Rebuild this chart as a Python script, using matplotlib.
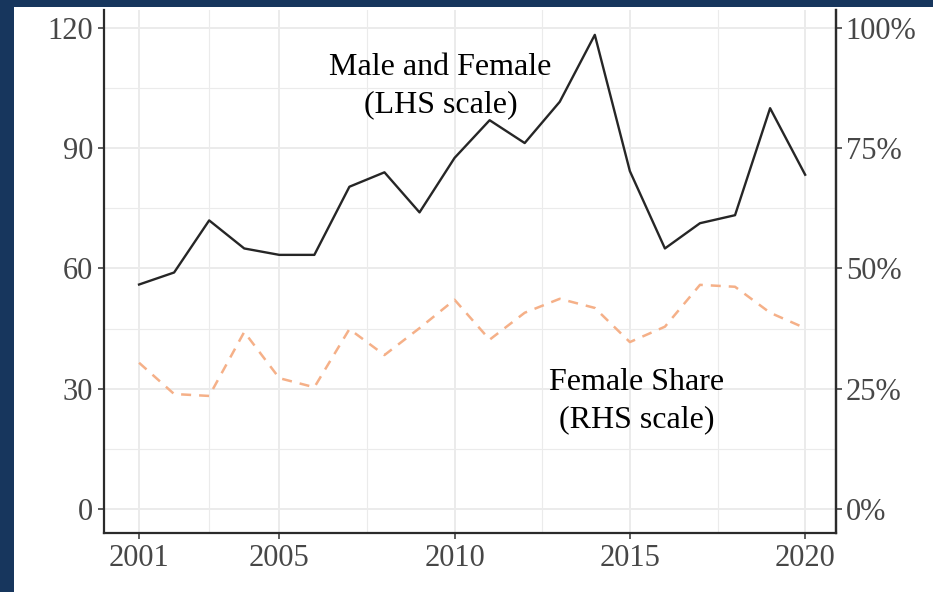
import numpy as np
import matplotlib
matplotlib.use("Agg")
import matplotlib.pyplot as plt
from matplotlib.patches import Rectangle

plt.rcParams['font.family'] = ['Liberation Serif', 'DejaVu Serif']

# data
years = list(range(2001, 2021))
total = [56, 59, 72, 65, 63.4, 63.4, 80.4, 84, 74, 87.6,
         97, 91.3, 101.6, 118.3, 84.3, 65, 71.3, 73.3, 100, 83.4]
female_share = [0.304, 0.239, 0.235, 0.368, 0.272, 0.253, 0.374, 0.320, 0.376, 0.435,
                0.352, 0.408, 0.437, 0.418, 0.347, 0.379, 0.466, 0.462, 0.408, 0.376]

left_ticks = [0, 30, 60, 90, 120]
right_ticks = [0, 0.25, 0.5, 0.75, 1.0]
right_labels = ['0%', '25%', '50%', '75%', '100%']
x_ticks = [2001, 2005, 2010, 2015, 2020]

navy = '#17365D'
tick_col = '#474747'
grid_col = '#EBEBEB'

fig = plt.figure(figsize=(9.33, 5.92), dpi=100, facecolor=navy)
# white page inside the navy frame
fig.patches.append(Rectangle((14 / 933, 0), 1, 1 - 7 / 592, transform=fig.transFigure,
                             facecolor='white', edgecolor='none', zorder=-10))

ax = fig.add_axes([104 / 933, 1 - 533 / 592, (836 - 104) / 933, (533 - 10) / 592])
ax.set_facecolor('none')
ax.set_xlim(2000.0, 2020.88)
ax.set_ylim(-6, 124.5)

# grid: major + minor like ggplot
ax.set_xticks(x_ticks)
ax.set_xticks([2003, 2007.5, 2012.5, 2017.5], minor=True)
ax.set_yticks(left_ticks)
ax.set_yticks([15, 45, 75, 105], minor=True)
ax.grid(True, which='major', color=grid_col, lw=1.4, zorder=0)
ax.grid(True, which='minor', color=grid_col, lw=0.8, zorder=0)

ax.plot(years, total, color='#262626', lw=1.7, zorder=3)
ax.plot(years, [s * 120 for s in female_share], color='#F5B088', lw=1.8,
        linestyle=(0, (4, 3.2)), zorder=3)

ax.spines['top'].set_visible(False)
for side in ['left', 'bottom', 'right']:
    ax.spines[side].set_color('#2B2B2B')
    ax.spines[side].set_linewidth(1.6)

ax.tick_params(axis='both', which='major', labelsize=22, labelcolor=tick_col,
               color='#333333', length=4, width=1.1, pad=4)
ax.tick_params(axis='both', which='minor', length=0)

ax2 = ax.twinx()
ax2.set_ylim(-6 / 120, 124.5 / 120)
ax2.set_yticks(right_ticks)
ax2.set_yticklabels(right_labels)
ax2.spines['top'].set_visible(False)
ax2.spines['left'].set_visible(False)
ax2.spines['bottom'].set_visible(False)
ax2.spines['right'].set_color('#2B2B2B')
ax2.spines['right'].set_linewidth(1.6)
ax2.tick_params(axis='y', labelsize=22, labelcolor=tick_col, color='#333333',
                length=4, width=1.1, pad=3)

ax.text(2009.6, 105.5, 'Male and Female\n(LHS scale)', ha='center', va='center',
        fontsize=23, color='black', linespacing=1.38, zorder=4)
ax.text(2015.2, 27, 'Female Share\n(RHS scale)', ha='center', va='center',
        fontsize=23, color='black', linespacing=1.38, zorder=4)

fig.savefig('out.png', dpi=100, facecolor=navy)
